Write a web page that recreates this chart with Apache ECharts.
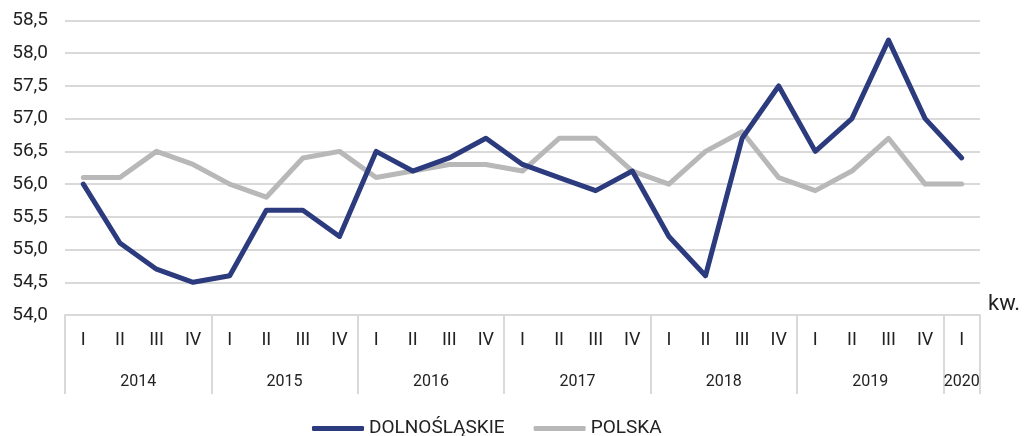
<!DOCTYPE html>
<html>
<head>
<meta charset="utf-8">
<script src="https://cdn.jsdelivr.net/npm/echarts@6/dist/echarts.min.js"></script>
<style>
html,body{margin:0;padding:0;background:#fff;}
#chart{width:1024px;height:436px;}
</style>
</head>
<body>
<div id="chart"></div>
<script>
// ---- data ----
var quarters = ['I','II','III','IV','I','II','III','IV','I','II','III','IV','I','II','III','IV','I','II','III','IV','I','II','III','IV','I'];
var years = ['2014','2015','2016','2017','2018','2019','2020'];
var yearQuarterCounts = [4,4,4,4,4,4,1];
var dolnoslaskie = [56.0,55.1,54.7,54.5,54.6,55.6,55.6,55.2,56.5,56.2,56.4,56.7,56.3,56.1,55.9,56.2,55.2,54.6,56.7,57.5,56.5,57.0,58.2,57.0,56.4];
var polska = [56.1,56.1,56.5,56.3,56.0,55.8,56.4,56.5,56.1,56.2,56.3,56.3,56.2,56.7,56.7,56.2,56.0,56.5,56.8,56.1,55.9,56.2,56.7,56.0,56.0];
var yTicks = {min:54.0, max:58.5, step:0.5};

// ---- build half-quarter year axis (boundaryGap false, 2 slots per quarter) ----
var nHalf = quarters.length * 2 + 1;
var yearAxisData = [];
for (var i = 0; i < nHalf; i++) yearAxisData.push('');
var separators = {};
var pos = 0;
separators[0] = true;
for (var k = 0; k < years.length; k++) {
  var span = yearQuarterCounts[k] * 2;
  yearAxisData[pos + span / 2] = years[k];
  pos += span;
  separators[pos] = true;
}

var chart = echarts.init(document.getElementById('chart'));
var FONT = 'Roboto';
chart.setOption({
  animation: false,
  grid: {left: 65, right: 44, top: 20.5, bottom: 121, containLabel: false},
  legend: {
    top: 414,
    left: 307,
    itemWidth: 52,
    itemHeight: 5,
    itemGap: 29,
    icon: 'roundRect',
    textStyle: {fontFamily: FONT, fontSize: 19, color: '#222'},
    data: ['DOLNOŚLĄSKIE', 'POLSKA']
  },
  xAxis: [{
    type: 'category',
    data: quarters,
    boundaryGap: true,
    name: 'kw.',
    nameLocation: 'end',
    nameGap: 8,
    nameTextStyle: {fontFamily: FONT, fontSize: 22, color: '#222', verticalAlign: 'bottom', padding: [0,0,0,0]},
    axisLine: {show: true, lineStyle: {color: '#d9d9d9', width: 2}},
    axisTick: {show: false},
    axisLabel: {fontFamily: FONT, fontSize: 18, color: '#222', margin: 16, interval: 0}
  }, {
    type: 'category',
    data: yearAxisData,
    boundaryGap: false,
    position: 'bottom',
    axisLine: {show: false},
    axisTick: {
      show: true,
      length: 79,
      interval: function (idx) { return !!separators[idx]; },
      lineStyle: {color: '#d9d9d9', width: 2}
    },
    axisLabel: {
      fontFamily: FONT, fontSize: 16, color: '#222', margin: 59,
      interval: function (idx, val) { return val !== ''; },
      hideOverlap: false
    },
    splitLine: {show: false}
  }],
  yAxis: {
    type: 'value',
    min: yTicks.min,
    max: yTicks.max,
    interval: yTicks.step,
    axisLine: {show: false},
    axisTick: {show: false},
    axisLabel: {
      fontFamily: FONT, fontSize: 19, color: '#222', margin: 17,
      formatter: function (v) { return v.toFixed(1).replace('.', ','); }
    },
    splitLine: {lineStyle: {color: '#d9d9d9', width: 2}}
  },
  series: [{
    name: 'DOLNOŚLĄSKIE',
    type: 'line',
    data: dolnoslaskie,
    symbol: 'none',
    color: '#2c3a7e',
    lineStyle: {width: 5, color: '#2c3a7e', cap: 'round', join: 'round'},
    z: 3
  }, {
    name: 'POLSKA',
    type: 'line',
    data: polska,
    symbol: 'none',
    color: '#b8b8b8',
    lineStyle: {width: 5, color: '#b8b8b8', cap: 'round', join: 'round'},
    z: 2
  }]
});
</script>
</body>
</html>
